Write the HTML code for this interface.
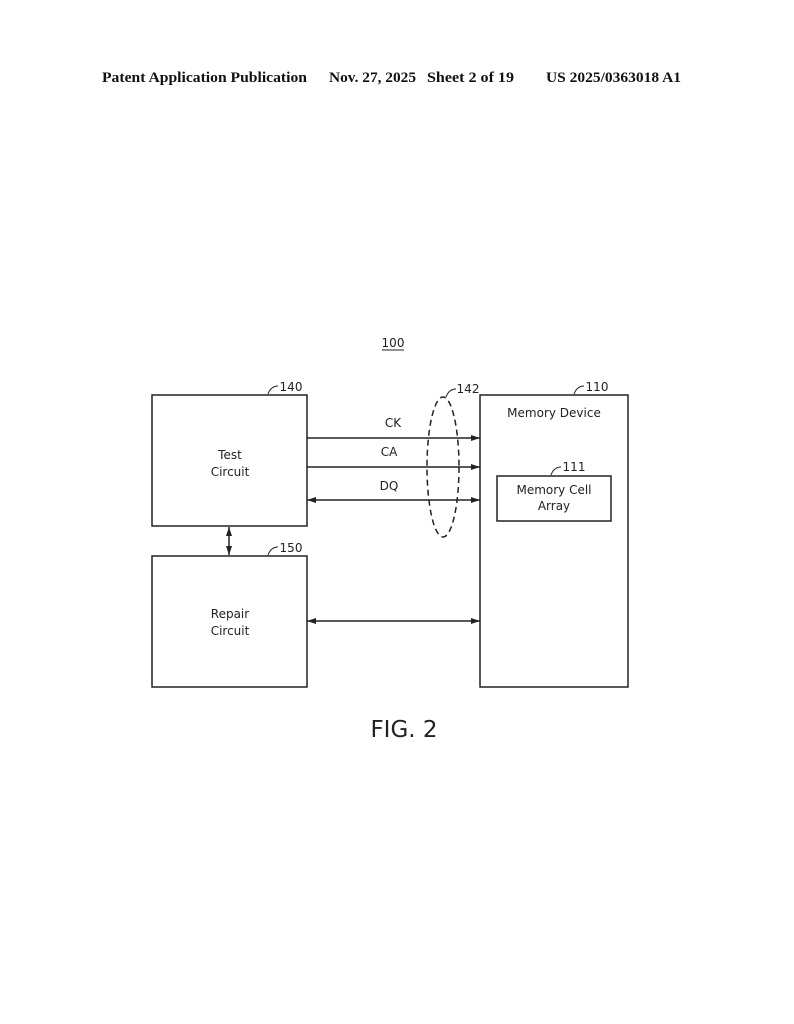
<!DOCTYPE html>
<html><head><style>
body{margin:0;background:#fff;}
svg{display:block;}
</style></head><body>
<svg width="794" height="1024" viewBox="0 0 794 1024" xmlns="http://www.w3.org/2000/svg">
<defs>
<marker id="a" markerWidth="10" markerHeight="8" refX="9" refY="4" orient="auto-start-reverse" markerUnits="userSpaceOnUse">
<path d="M0,1 L9,4 L0,7 Z" fill="#222"/></marker>
</defs>
<g font-family="Liberation Serif, serif" font-weight="bold" font-size="15" fill="#111">
<text x="102" y="82" textLength="205" lengthAdjust="spacingAndGlyphs">Patent Application Publication</text>
<text x="329" y="82" textLength="87" lengthAdjust="spacingAndGlyphs">Nov. 27, 2025</text>
<text x="427" y="82" textLength="87" lengthAdjust="spacingAndGlyphs">Sheet 2 of 19</text>
<text x="546" y="82" textLength="135" lengthAdjust="spacingAndGlyphs">US 2025/0363018 A1</text>
</g>
<g fill="none" stroke="#222" stroke-width="1.5">
<rect x="152" y="395" width="155" height="131"/>
<rect x="152" y="556" width="155" height="131"/>
<rect x="480" y="395" width="148" height="292"/>
<rect x="497" y="476" width="114" height="45"/>
<line x1="307" y1="438" x2="480" y2="438" marker-end="url(#a)"/>
<line x1="307" y1="467" x2="480" y2="467" marker-end="url(#a)"/>
<line x1="307" y1="500" x2="480" y2="500" marker-start="url(#a)" marker-end="url(#a)"/>
<line x1="307" y1="621" x2="480" y2="621" marker-start="url(#a)" marker-end="url(#a)"/>
<line x1="229" y1="527" x2="229" y2="555" marker-start="url(#a)" marker-end="url(#a)"/>
<ellipse cx="443" cy="467" rx="16" ry="70" stroke-dasharray="6,4"/>
<path d="M268,394 q3,-8 10,-8" stroke-width="1"/>
<path d="M268,555 q3,-8 10,-8" stroke-width="1"/>
<path d="M574,394 q3,-8 10,-8" stroke-width="1"/>
<path d="M551,475 q3,-8 10,-8" stroke-width="1"/>
<path d="M446,397 q3,-8 10,-8" stroke-width="1"/>
<line x1="382" y1="350" x2="404" y2="350" stroke-width="1"/>
</g>
<g font-family="DejaVu Sans, Liberation Sans, sans-serif" font-size="12" fill="#222" text-anchor="middle">
<text x="393" y="347">100</text>
<text x="291" y="391">140</text>
<text x="291" y="552">150</text>
<text x="597" y="391">110</text>
<text x="574" y="471">111</text>
<text x="468" y="393">142</text>
<text x="393" y="427">CK</text>
<text x="389" y="456">CA</text>
<text x="389" y="490">DQ</text>
<text x="230" y="459">Test</text>
<text x="230" y="476">Circuit</text>
<text x="230" y="618">Repair</text>
<text x="230" y="635">Circuit</text>
<text x="554" y="417">Memory Device</text>
<text x="554" y="494">Memory Cell</text>
<text x="554" y="510">Array</text>
<text x="404" y="737" font-size="23">FIG. 2</text>
</g>
</svg>
</body></html>
